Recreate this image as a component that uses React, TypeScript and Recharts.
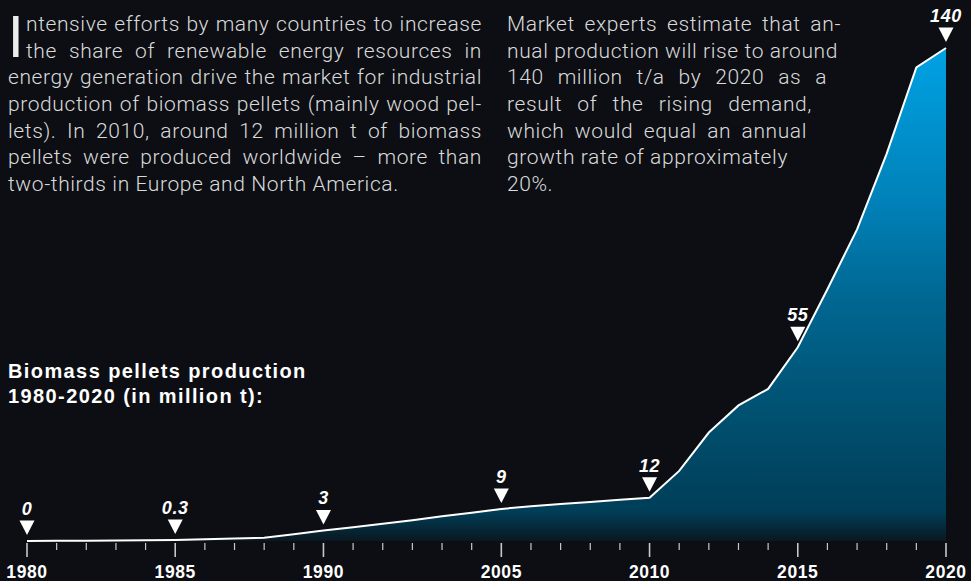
import { AreaChart, Area, XAxis, YAxis, ReferenceDot } from "recharts";

// x positions are per-tick; 1990 -> 2005 is compressed on the original axis
const yearLabels = [
  "1980", "1981", "1982", "1983", "1984", "1985", "1986", "1987", "1988", "1989", "1990",
  "", "", "", "", "",
  "2005", "2006", "2007", "2008", "2009", "2010",
  "2011", "2012", "2013", "2014", "2015", "2016", "2017", "2018", "2019", "2020",
];

const production = [
  0, 0.05, 0.1, 0.15, 0.2, 0.3, 0.5, 0.7, 0.95, 1.9, 3,
  3.9, 4.9, 5.9, 7.0, 8.0,
  9.1, 9.9, 10.5, 11.1, 11.7, 12.3,
  19.9, 30.8, 38.5, 43.2, 55, 71.5, 88.5, 110, 134.5, 140,
];

const shownYears = ["1980", "1985", "1990", "2005", "2010", "2015", "2020"];
const markerYears = ["1980", "1985", "1990", "2005", "2010", "2015", "2020"];
const markerLabels = ["0", "0.3", "3", "9", "12", "55", "140"];

const leftLines = [
  "ntensive efforts by many countries to increase",
  "the share of renewable energy resources in",
  "energy generation drive the market for industrial",
  "production of biomass pellets (mainly wood pel-",
  "lets). In 2010, around 12 million t of biomass",
  "pellets were produced worldwide – more than",
  "two-thirds in Europe and North America.",
];

const rightLines = [
  "Market experts estimate that an-",
  "nual production will rise to around",
  "140 million t/a by 2020 as a",
  "result of the rising demand,",
  "which would equal an annual",
  "growth rate of approximately",
  "20%.",
];
const rightWidths = [334, 330, 320, 305, 300, 0, 0];

const data = production.map((v, i) => ({ idx: i, year: yearLabels[i], value: v }));
const tickIdx = yearLabels.map((_, i) => i);

const TEXT_FONT = "Roboto, 'Liberation Sans', sans-serif";
const BOLD_FONT = "'Liberation Sans', Arial, sans-serif";
const LINE_H = 26.7;

const AxisTick = (props: any) => {
  const { x, y, payload } = props;
  const label = yearLabels[payload.value];
  const major = shownYears.includes(label);
  return (
    <g>
      <line
        x1={x}
        x2={x}
        y1={y + 2}
        y2={y + (major ? 16 : 9)}
        stroke="#c8c8c8"
        strokeWidth={major ? 1.6 : 1.2}
      />
      {major && (
        <text
          x={x}
          y={y + 36.5}
          textAnchor="middle"
          fill="#ffffff"
          fontFamily={BOLD_FONT}
          fontWeight="bold"
          fontSize={17.5}
        >
          {label}
        </text>
      )}
    </g>
  );
};

const Marker = ({ cx, cy, label }: { cx: number; cy: number; label: string }) => {
  const tip = cy - 6;
  return (
    <g>
      <polygon points={`${cx - 7.5},${tip - 14.5} ${cx + 7.5},${tip - 14.5} ${cx},${tip}`} fill="#ffffff" />
      <text
        x={cx}
        y={tip - 20}
        textAnchor="middle"
        fill="#ffffff"
        fontFamily={BOLD_FONT}
        fontWeight="bold"
        fontStyle="italic"
        fontSize={18}
        letterSpacing={0.6}
      >
        {label}
      </text>
    </g>
  );
};

const Para = ({ lines, left, widths, firstIndent }: { lines: string[]; left: number; widths: number[]; firstIndent?: number }) => (
  <div style={{ position: "absolute", left, top: 11 }}>
    {lines.map((line, i) => {
      const indent = i < 2 && firstIndent ? firstIndent : 0;
      const w = widths[i];
      return (
        <div
          key={i}
          style={{
            marginLeft: indent,
            width: w ? w - indent : undefined,
            whiteSpace: "nowrap",
            height: LINE_H,
            lineHeight: `${LINE_H}px`,
            textAlign: w ? "justify" : "left",
            textAlignLast: w ? "justify" : "left",
          }}
        >
          {line}
        </div>
      );
    })}
  </div>
);

export default function App() {
  return (
    <div
      style={{
        position: "fixed",
        left: 0,
        top: 0,
        width: 971,
        height: 581,
        overflow: "hidden",
        background: "#0c0e13",
        color: "#dadada",
        fontFamily: TEXT_FONT,
        fontWeight: 300,
        fontSize: 21,
        letterSpacing: 0.6,
      }}
    >
      <AreaChart width={971} height={581} data={data} margin={{ top: 48, right: 25, left: 27, bottom: 0 }}>
        <defs>
          <linearGradient id="pelletFill" gradientUnits="userSpaceOnUse" x1="0" y1="46" x2="0" y2="541">
            <stop offset="0" stopColor="#00a2e4" />
            <stop offset="0.31" stopColor="#0082b9" />
            <stop offset="0.51" stopColor="#006792" />
            <stop offset="0.76" stopColor="#004f6e" />
            <stop offset="0.94" stopColor="#003e58" />
            <stop offset="1" stopColor="#0a1820" />
          </linearGradient>
        </defs>
        <XAxis
          dataKey="idx"
          type="number"
          domain={[0, 31]}
          ticks={tickIdx}
          interval={0}
          height={40}
          axisLine={false}
          tickLine={false}
          tickSize={0}
          tickMargin={0}
          tick={<AxisTick />}
        />
        <YAxis hide domain={[0, 140]} />
        <Area
          type="linear"
          dataKey="value"
          stroke="#ffffff"
          strokeWidth={2}
          fill="url(#pelletFill)"
          fillOpacity={1}
          dot={false}
          activeDot={false}
          isAnimationActive={false}
        />
        {markerYears.map((yr, i) => {
          const idx = yearLabels.indexOf(yr);
          return (
            <ReferenceDot
              key={yr}
              x={idx}
              y={production[idx]}
              r={0}
              ifOverflow="visible"
              shape={(p: any) => <Marker cx={p.cx} cy={p.cy} label={markerLabels[i]} />}
            />
          );
        })}
      </AreaChart>

      <div
        style={{
          position: "absolute",
          left: 8,
          top: 17,
          fontSize: 57,
          lineHeight: "42px",
          height: 42,
          letterSpacing: 0,
          color: "#ececec",
          fontWeight: 400,
        }}
      >
        I
      </div>
      <Para lines={leftLines} left={8} widths={[474, 474, 474, 474, 474, 474, 0]} firstIndent={18} />
      <Para lines={rightLines} left={507} widths={rightWidths} />

      <div
        style={{
          position: "absolute",
          left: 8,
          top: 359,
          fontFamily: BOLD_FONT,
          fontWeight: "bold",
          fontSize: 20,
          letterSpacing: 1.4,
          lineHeight: "24.7px",
          color: "#ffffff",
        }}
      >
        <div>Biomass pellets production</div>
        <div>1980-2020 (in million t):</div>
      </div>
    </div>
  );
}
